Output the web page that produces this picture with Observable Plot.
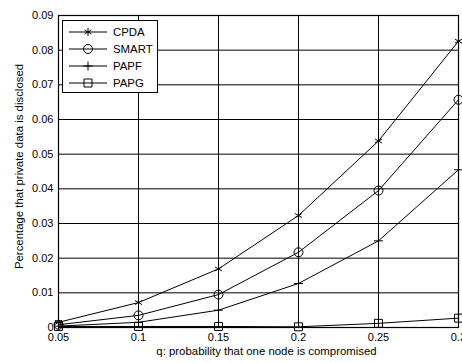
<!DOCTYPE html>
<html>
<head>
<meta charset="utf-8">
<script src="https://cdn.jsdelivr.net/npm/d3@7"></script>
<script src="https://cdn.jsdelivr.net/npm/@observablehq/plot@0.6"></script>
<style>
  html, body { margin: 0; padding: 0; background: #fff; }
  #wrap { position: relative; width: 462px; height: 363px; overflow: hidden; }
  #legend { position: absolute; left: 0; top: 0; }
</style>
</head>
<body>
<div id="wrap"></div>
<script>
const qValues = [0.05, 0.1, 0.15, 0.2, 0.25, 0.3];
const seriesNames = ["CPDA", "SMART", "PAPF", "PAPG"];
const seriesSymbols = ["asterisk", "circle", "plus", "square"];
const cpda  = [0.0015, 0.0072, 0.0169, 0.0323, 0.0538, 0.0826];
const smart = [0.0008, 0.0035, 0.0095, 0.0217, 0.0395, 0.0657];
const papf  = [0.0004, 0.0015, 0.0050, 0.0127, 0.0250, 0.0455];
const papg  = [0.0003, 0.0003, 0.0003, 0.0002, 0.0012, 0.0027];
const xTicks = [0.05, 0.1, 0.15, 0.2, 0.25, 0.3];
const yTicks = [0, 0.01, 0.02, 0.03, 0.04, 0.05, 0.06, 0.07, 0.08, 0.09];
const xLabel = "q: probability that one node is compromised";
const yLabel = "Percentage that private data is disclosed";

const seriesValues = [cpda, smart, papf, papg];
const data = [];
seriesNames.forEach((name, i) => {
  qValues.forEach((q, j) => data.push({series: name, q, v: seriesValues[i][j], symbol: seriesSymbols[i]}));
});

const font = "'Liberation Sans', Arial, sans-serif";
const chart = Plot.plot({
  width: 462,
  height: 363,
  marginLeft: 58,
  marginRight: 4,
  marginTop: 15,
  marginBottom: 36,
  style: {fontFamily: font, fontSize: "11px", background: "#fff", color: "#000", overflow: "visible"},
  x: {domain: [0.05, 0.3]},
  y: {domain: [0, 0.09]},
  symbol: {domain: seriesNames, range: seriesSymbols},
  marks: [
    Plot.gridX(xTicks, {stroke: "#000", strokeOpacity: 1, strokeWidth: 1}),
    Plot.gridY(yTicks, {stroke: "#000", strokeOpacity: 1, strokeWidth: 1}),
    Plot.line(data, {x: "q", y: "v", z: "series", stroke: "#000", strokeWidth: 1}),
    Plot.dot(data.filter(d => d.series === "SMART" || d.series === "PAPG"), {x: "q", y: "v", symbol: "series", stroke: "#000", r: 4.5, strokeWidth: 1}),
    Plot.dot(data.filter(d => d.series === "CPDA"), {x: "q", y: "v", symbol: "series", stroke: "#000", r: 3.8, strokeWidth: 1}),
    Plot.dot(data.filter(d => d.series === "PAPF"), {x: "q", y: "v", symbol: "series", stroke: "#000", r: 3, strokeWidth: 1}),
    Plot.frame({stroke: "#000", strokeWidth: 1.2}),
    Plot.axisX(xTicks, {tickSize: 0, tickPadding: 6, tickFormat: d => String(d), label: null, fontSize: 11}),
    Plot.axisY(yTicks, {tickSize: 0, tickPadding: 5, tickFormat: d => String(d), label: null, fontSize: 11}),
    Plot.text([xLabel], {frameAnchor: "bottom", dx: 8, dy: 27, fontSize: 11.4, fill: "#000"}),
    Plot.text([yLabel], {frameAnchor: "left", textAnchor: "middle", dx: -39, dy: -5, rotate: -90, fontSize: 11.4, fill: "#000"})
  ]
});
const wrap = document.getElementById("wrap");
wrap.appendChild(chart);

// legend overlay
const lg = d3.select(wrap).append("svg").attr("id", "legend")
  .attr("width", 462).attr("height", 363)
  .style("font-family", font).style("font-size", "11.4px");
lg.append("rect").attr("x", 62.5).attr("y", 20.5).attr("width", 95).attr("height", 72)
  .attr("fill", "#fff").attr("stroke", "#000").attr("stroke-width", 1);
const rowsY = [32, 49, 66, 83];
const symMap = {asterisk: d3.symbolAsterisk, circle: d3.symbolCircle, plus: d3.symbolPlus, square: d3.symbolSquare};
const symR = {asterisk: 3.8, circle: 4.5, plus: 3, square: 4.5};
seriesNames.forEach((name, i) => {
  const g = lg.append("g").attr("transform", `translate(0,${rowsY[i]})`);
  g.append("line").attr("x1", 69).attr("x2", 107).attr("y1", 0).attr("y2", 0).attr("stroke", "#000");
  const r = symR[seriesSymbols[i]];
  g.append("path").attr("d", d3.symbol(symMap[seriesSymbols[i]], Math.PI * r * r)())
    .attr("transform", "translate(88,0)").attr("fill", "none").attr("stroke", "#000");
  g.append("text").attr("x", 113).attr("y", 0).attr("dy", "0.35em").text(name);
});
</script>
</body>
</html>
